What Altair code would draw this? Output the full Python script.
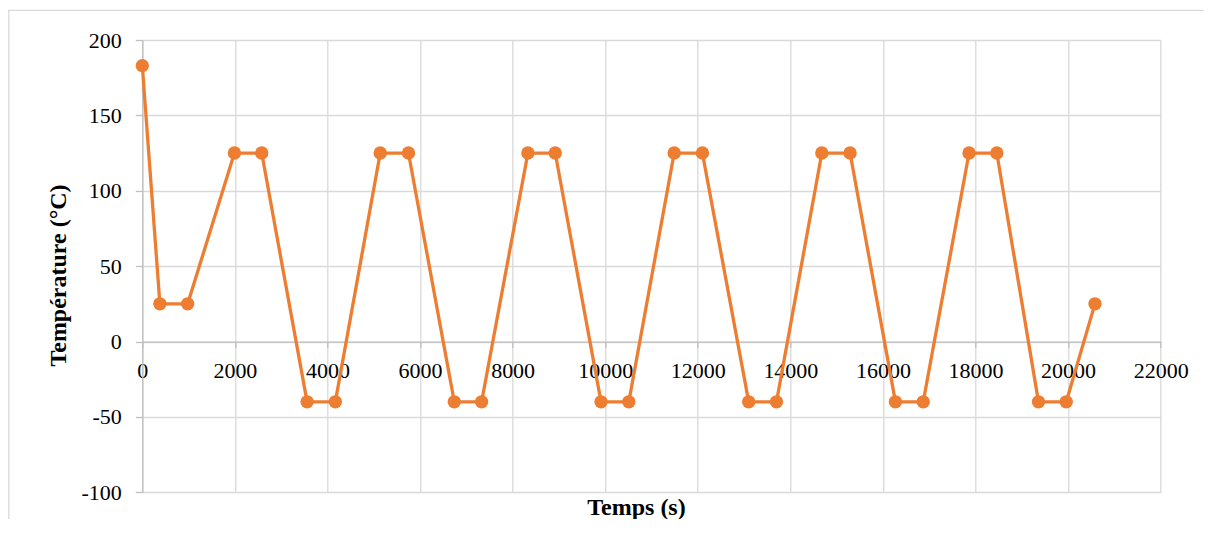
import altair as alt
import pandas as pd

# Data
temps_s = [0, 380, 980, 1990, 2580, 3560, 4170, 5140, 5750, 6740, 7330, 8330, 8920,
           9910, 10510, 11490, 12100, 13100, 13700, 14680, 15290, 16270, 16870,
           17860, 18460, 19360, 19960, 20580]
temperature_c = [183, 25, 25, 125, 125, -40, -40, 125, 125, -40, -40, 125, 125,
                 -40, -40, 125, 125, -40, -40, 125, 125, -40, -40,
                 125, 125, -40, -40, 25]
x_ticks = list(range(0, 22001, 2000))
y_ticks = list(range(-100, 201, 50))

df = pd.DataFrame({"t": temps_s, "temp": temperature_c})

W, H = 1018.4, 452.3
PAD_L, PAD_T, PAD_R, PAD_B = 134.3, 32, 43, 27
FONT = "Liberation Serif"
GRID = "#d9d9d9"
AXIS = "#bfbfbf"
ORANGE = "#ED7D31"

# x axis crosses at y = 0
y_zero_px = H * (200 - 0) / 300.0
x_offset = y_zero_px - H

x_enc = alt.X(
    "t:Q",
    scale=alt.Scale(domain=[0, 22000], nice=False, zero=False),
    axis=alt.Axis(
        values=x_ticks, format="d", labelExpr="'' + datum.value", offset=x_offset,
        grid=True, gridColor=GRID, gridWidth=1.3,
        domainColor=AXIS, domainWidth=1.3,
        tickColor=AXIS, tickWidth=1.3, tickSize=6,
        labelFont=FONT, labelFontSize=22, labelColor="black", labelPadding=13,
        labelFlush=False, labelOverlap=False,
        title="Temps (s)", titleFont=FONT, titleFontSize=24, titleFontWeight="bold",
        titleColor="black", titleX=493.7, titleY=172.5, titleAlign="center",
        titleBaseline="alphabetic",
    ),
)
y_enc = alt.Y(
    "temp:Q",
    scale=alt.Scale(domain=[-100, 200], nice=False, zero=False),
    axis=alt.Axis(
        values=y_ticks, format="d", labelExpr="'' + datum.value",
        grid=True, gridColor=GRID, gridWidth=1.3,
        domainColor=AXIS, domainWidth=1.3,
        tickColor=AXIS, tickWidth=1.3, tickSize=7,
        labelFont=FONT, labelFontSize=22, labelColor="black", labelPadding=14,
        labelFlush=False, labelOverlap=False,
        title="Température (°C)", titleFont=FONT, titleFontSize=24,
        titleFontWeight="bold", titleColor="black", titleAngle=270,
        titleX=-76.6, titleY=235, titleAlign="center", titleBaseline="alphabetic",
    ),
)

base = alt.Chart(df)
line = base.mark_line(color=ORANGE, strokeWidth=3.3).encode(x=x_enc, y=y_enc)
pts = base.mark_circle(color=ORANGE, opacity=1, size=180).encode(x="t:Q", y="temp:Q")

# outer chart frame (decoration)
frame_top = alt.Chart(pd.DataFrame({"a": [0]})).mark_rule(color=GRID, strokeWidth=1.3).encode(
    x=alt.value(-PAD_L), x2=alt.value(W + PAD_R), y=alt.value(2.3 - PAD_T)
)
frame_left = alt.Chart(pd.DataFrame({"a": [0]})).mark_rule(color=GRID, strokeWidth=1.3).encode(
    x=alt.value(0.8 - PAD_L), y=alt.value(2.3 - PAD_T), y2=alt.value(H + PAD_B)
)

chart = alt.layer(frame_top, frame_left, line, pts).properties(
    width=W, height=H,
    autosize=alt.AutoSizeParams(type="none"),
    padding={"left": PAD_L, "top": PAD_T, "right": PAD_R, "bottom": PAD_B},
).configure_view(stroke=None)

chart.save("out.html", embed_options={"renderer": "svg", "actions": False})
